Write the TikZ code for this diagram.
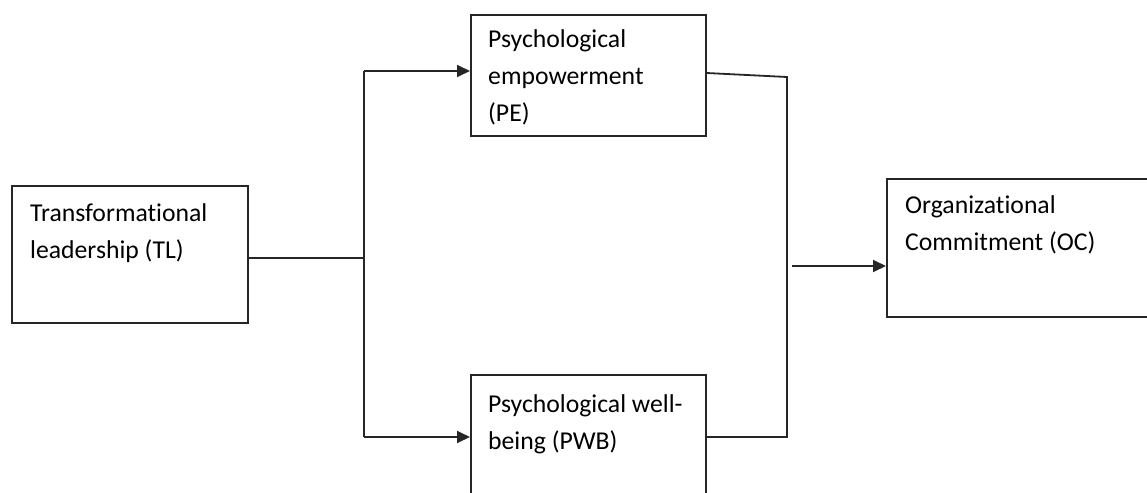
\documentclass[tikz,border=0pt]{standalone}
\usepackage{fontspec}
\setmainfont{Carlito}[Ligatures=NoCommon]
\usetikzlibrary{arrows.meta}
\tikzset{
  box/.style={draw=black!85, line width=1.6pt, inner sep=0pt, anchor=north west},
  lbl/.style={inner sep=0pt, anchor=base west, text=black,
    font=\fontsize{25.7}{37}\selectfont},
  conn/.style={draw=black!85, line width=1.8pt},
  arr/.style={conn, -{Triangle[length=13pt,width=12pt]}}
}
\begin{document}
\begin{tikzpicture}[x=1pt,y=-1pt]
\useasboundingbox (0,0) rectangle (1147,492);
\clip (0,0) rectangle (1147,492);
% boxes
\node[box, minimum width=236pt, minimum height=137pt] (tl) at (11,185) {};
\node[box, minimum width=235pt, minimum height=121pt] (pe) at (470,14) {};
\node[box, minimum width=235pt, minimum height=150pt] (pwb) at (470,374) {};
\node[box, minimum width=290pt, minimum height=138pt] (oc) at (886,178) {};
% texts
\node[lbl] (tltext) at (30,221) {\parbox[t]{210pt}{Transformational\\leadership (TL)}};
\node[lbl] (petext) at (488,48) {\parbox[t]{210pt}{Psychological\\empowerment\\(PE)}};
\node[lbl] (pwbtext) at (488,412) {\parbox[t]{210pt}{Psychological well-\\being (PWB)}};
\node[lbl] (octext) at (905,213) {\parbox[t]{230pt}{Organizational\\Commitment (OC)}};
% junction coordinates
\coordinate (j1) at (364,258);
\coordinate (a1) at (364,71);
\coordinate (a2) at (364,437);
\coordinate (b1) at (787,77);
\coordinate (b2) at (787,437);
\coordinate (c1) at (792,266);
% connectors
\draw[conn] (tl.east |- j1) -- (j1);
\draw[conn] (a1) -- (a2);
\draw[arr] (a1) -- (a1 -| pe.west);
\draw[arr] (a2) -- (a2 -| pwb.west);
\draw[conn] (pe.east |- 0,73) -- (b1) -- (b2) -- (b2 -| pwb.east);
\draw[arr] (c1) -- (c1 -| oc.west);
\end{tikzpicture}
\end{document}
